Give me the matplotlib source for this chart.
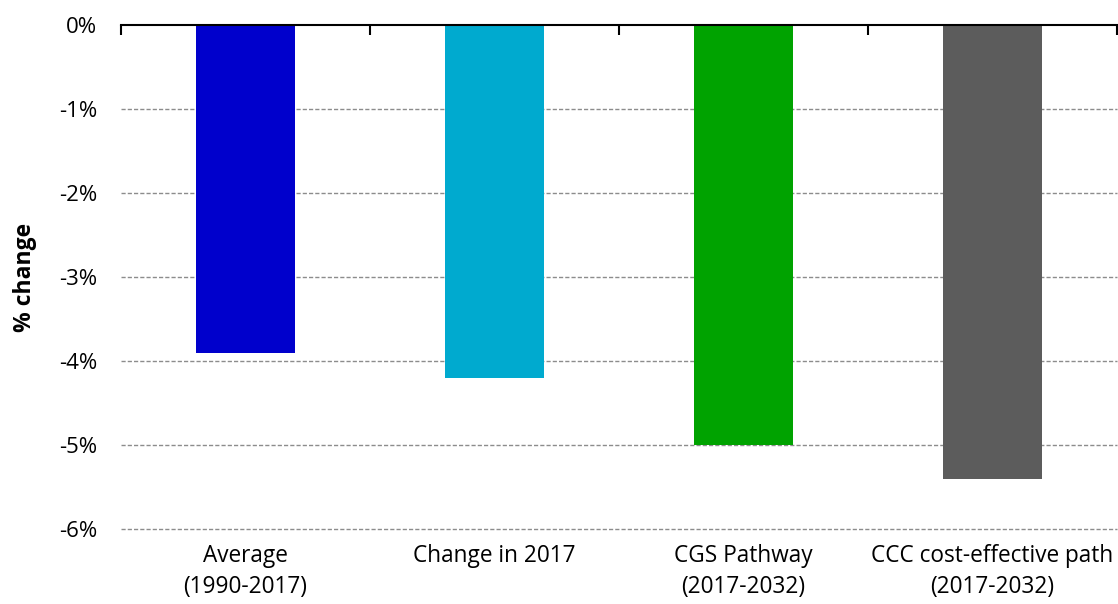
import matplotlib
matplotlib.use("Agg")
import matplotlib.pyplot as plt
from matplotlib.ticker import FuncFormatter

categories = ["Average\n(1990-2017)", "Change in 2017", "CGS Pathway\n(2017-2032)",
              "CCC cost-effective path\n(2017-2032)"]
values = [-3.9, -4.2, -5.0, -5.4]
colors = ["#0000CC", "#00AACF", "#00A300", "#5C5C5C"]

plt.rcParams["font.family"] = ["Open Sans", "DejaVu Sans"]

W, H = 1118, 604
fig = plt.figure(figsize=(W / 100, H / 100), dpi=100)
ax = fig.add_axes([121 / W, 1 - 529 / H, (1117 - 121) / W, (529 - 25) / H])

x = list(range(len(categories)))
ax.bar(x, values, width=0.4, color=colors, zorder=3)

ax.set_xlim(-0.5, len(categories) - 0.5)
ax.set_ylim(-6, 0)
ax.set_yticks(range(-6, 1))
ax.yaxis.set_major_formatter(FuncFormatter(lambda v, p: f"{int(v)}%"))
ax.tick_params(axis="y", length=0, pad=17, labelsize=16)

ax.set_xticks(x, categories)
ax.tick_params(axis="x", which="major", bottom=True, length=0, pad=11, labelsize=16.3)
for lbl in ax.get_xticklabels():
    lbl.set_linespacing(1.4)
ax.set_xticks([i - 0.5 for i in range(len(categories) + 1)], minor=True)
ax.tick_params(axis="x", which="minor", bottom=False, top=True, direction="in",
               length=7, width=1.5, color="black")

for s in ["left", "right", "bottom"]:
    ax.spines[s].set_visible(False)
ax.spines["top"].set_linewidth(1.5)
ax.spines["top"].set_zorder(4)

for v in range(-6, 0):
    ax.axhline(v, color="#8C8C8C", linestyle=(0, (3, 1.5)), linewidth=1, zorder=1,
               clip_on=False)

ax.set_ylabel("% change", fontsize=16.5, fontweight="bold", labelpad=16)

fig.savefig("out.png", dpi=100)
